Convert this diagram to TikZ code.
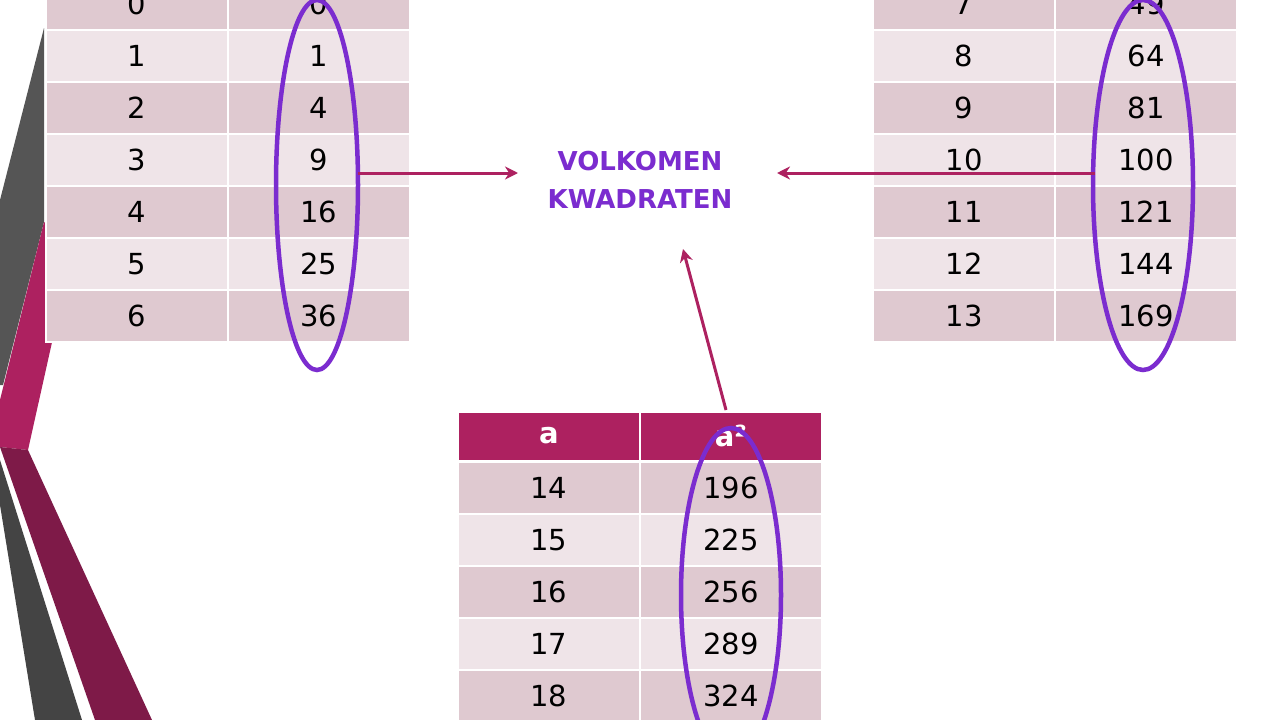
\documentclass[tikz,border=0pt]{standalone}
\usepackage{fontspec}
\setmainfont{DejaVu Sans}
\usetikzlibrary{arrows.meta}
\definecolor{dk}{HTML}{DFC9D0}
\definecolor{lt}{HTML}{EFE4E8}
\definecolor{mag}{HTML}{AD2160}
\definecolor{dmag}{HTML}{7E1A48}
\definecolor{gry}{HTML}{555555}
\definecolor{pur}{HTML}{7B2CCF}
\tikzset{
 cell/.style={minimum width=180pt,minimum height=50pt,inner sep=0,font=\fontsize{29pt}{32pt}\selectfont},
 ell/.style={draw=pur,line width=4.5pt},
 arr/.style={draw=mag,line width=3pt,-{Stealth[length=13pt,width=13pt]}}
}
\begin{document}
\begin{tikzpicture}[x=1pt,y=-1pt]
\useasboundingbox (0,0) rectangle (1280,720);
\fill[white] (0,0) rectangle (1280,720);
% left decoration
\fill[gry] (44,28) -- (44,222) -- (3,385) -- (0,385) -- (0,200) -- cycle;
\fill[mag] (44,222) -- (73,248) -- (28,450) -- (0,447) -- (0,400) -- cycle;
\fill[dmag] (0,447) -- (28,450) -- (152,720) -- (95,720) -- cycle;
\fill[gry!80!black] (0,460) -- (0,505) -- (35,720) -- (82,720) -- cycle;
\fill[white] (45,-30) rectangle (411,343);
% left table
\foreach \r/\b [count=\i from 0] in {0/0,1/1,2/4,3/9,4/16,5/25,6/36}{
  \pgfmathsetmacro\y{4+52*\i}
  \ifodd\i \def\c{lt}\else\def\c{dk}\fi
  \node[cell,fill=\c] (l\i a) at (137,\y) {\r};
  \node[cell,fill=\c] (l\i b) at (319,\y) {\b};
}
% right table
\foreach \r/\b [count=\i from 0] in {7/49,8/64,9/81,10/100,11/121,12/144,13/169}{
  \pgfmathsetmacro\y{4+52*\i}
  \ifodd\i \def\c{lt}\else\def\c{dk}\fi
  \node[cell,fill=\c] (r\i a) at (964,\y) {\r};
  \node[cell,fill=\c] (r\i b) at (1146,\y) {\b};
}
% bottom table
\node[cell,fill=mag,minimum height=47pt,text=white,font=\fontsize{29pt}{32pt}\selectfont\bfseries] (ha) at (549,436) {a};
\node[cell,fill=mag,minimum height=47pt,text=white,font=\fontsize{29pt}{32pt}\selectfont\bfseries] (hb) at (731,436) {a²};
\foreach \r/\b [count=\i from 0] in {14/196,15/225,16/256,17/289,18/324}{
  \pgfmathsetmacro\y{488+52*\i}
  \ifodd\i \def\c{lt}\else\def\c{dk}\fi
  \node[cell,fill=\c] (b\i a) at (549,\y) {\r};
  \node[cell,fill=\c] (b\i b) at (731,\y) {\b};
}
% ellipses
\draw[ell] (317,185) ellipse [x radius=41, y radius=185];
\draw[ell] (1143,185) ellipse [x radius=50, y radius=185];
\draw[ell] (731,595) ellipse [x radius=50, y radius=167];
% title
\node[text=pur,font=\fontsize{26pt}{38pt}\selectfont\bfseries,align=center] (t) at (640,180) {VOLKOMEN\\KWADRATEN};
\coordinate (p1) at (358,173);
\coordinate (p2) at (1095,173);
\coordinate (p3) at (726,410);
\draw[arr] (p1) -- (518,173);
\draw[arr] (p2) -- (777,173);
\draw[arr] (p3) -- (683,249);
\end{tikzpicture}
\end{document}
